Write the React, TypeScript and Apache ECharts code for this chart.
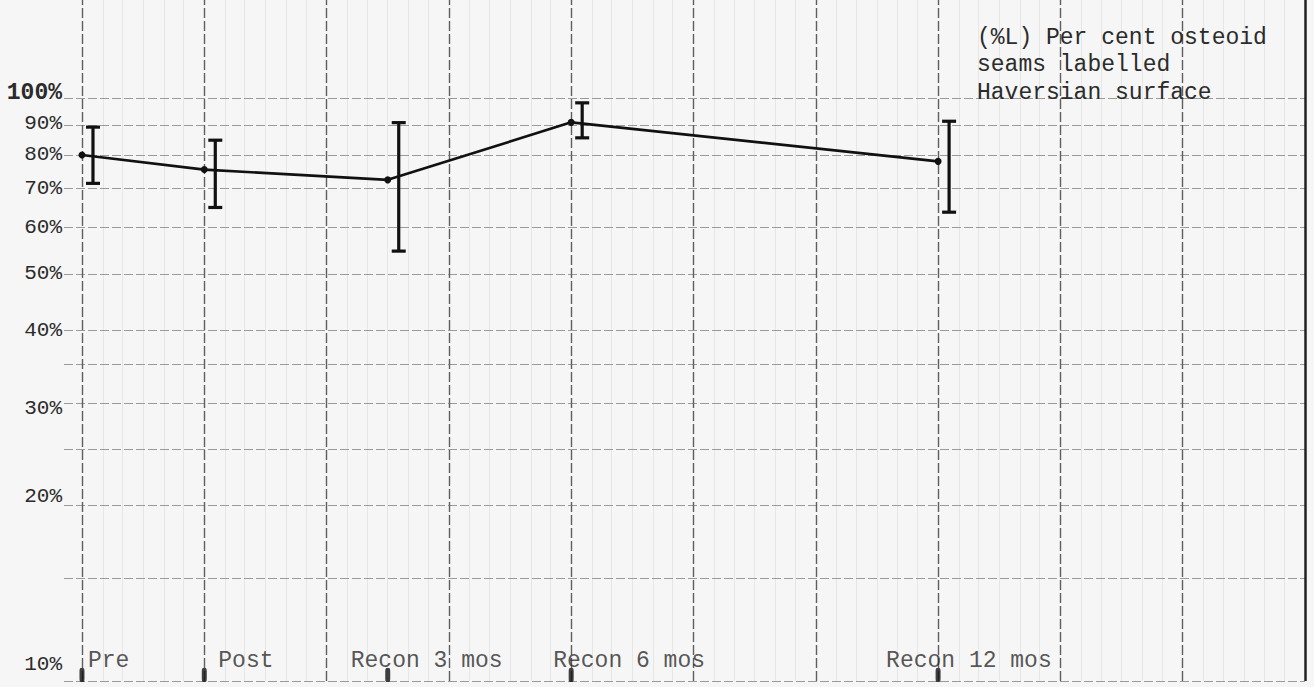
import React, { useEffect, useRef } from "react";
import * as echarts from "echarts";

// ---- data ----
const categories = ["Pre", "Post", "Recon 3 mos", "Recon 6 mos", "Recon 12 mos"];
const xPositions = [0, 1, 2.5, 4, 7];
const means = [80, 75.5, 72.5, 91, 78];
const lows = [71.5, 65, 54.7, 85.6, 63.8];
const highs = [89.3, 84.8, 90.9, 98.3, 91.4];
const yTickValues = [10, 20, 30, 40, 50, 60, 70, 80, 90, 100];
const yUnlabelledLines = [15, 25, 35];
const annotationLines = ["(%L) Per cent osteoid", "seams labelled", "Haversian surface"];

const FONT = "'Liberation Mono', 'DejaVu Sans Mono', monospace";
const INK = "#2b2b2b";

// label offsets (style) for category labels and y labels
const catLabelDx = [6, 14, -37, -18, -52];
const yLabelDy: Record<number, number> = { 10: -17, 20: -9, 30: 5, 90: -2, 100: -5 };

export default function App() {
  const ref = useRef<HTMLDivElement>(null);
  useEffect(() => {
    if (!ref.current) return;
    const chart = echarts.init(ref.current, undefined, { renderer: "svg" });

    const vMajor: any[] = [];
    for (let i = 0; i <= 9; i++) vMajor.push({ xAxis: i });
    const vFaint: any[] = [];
    for (let i = 0; i < 60; i++) {
      if (i % 6 !== 0) vFaint.push({ xAxis: i / 6 });
    }

    const hLines: any[] = [];
    yTickValues.forEach((v) => {
      hLines.push({
        yAxis: v,
        label: {
          show: true,
          position: "start",
          distance: 2,
          formatter: v + "%",
          fontFamily: FONT,
          fontSize: v === 100 ? 23 : 21,
          fontWeight: v === 100 ? "bold" : "normal",
          color: INK,
          offset: [0, yLabelDy[v] || 0],
        },
      });
    });
    yUnlabelledLines.forEach((v) => hLines.push({ yAxis: v, label: { show: false } }));

    const lineData = xPositions.map((x, i) => [x, means[i]]);
    const errData = xPositions.map((x, i) => [x, lows[i], highs[i]]);
    const markerData = xPositions.map((x) => [x, 10]);
    const labelData = xPositions.map((x, i) => ({
      value: [x, 10],
      label: { offset: [catLabelDx[i], -20] },
    }));

    const option: any = {
      animation: false,
      backgroundColor: "#f6f6f6",
      title: {
        text: annotationLines.join("\n"),
        left: 972,
        top: 19,
        textStyle: {
          fontFamily: FONT,
          fontSize: 23,
          fontWeight: "normal",
          color: INK,
          lineHeight: 27.5,
        },
      },
      grid: { left: 64, right: 9, top: 0, bottom: 6 },
      xAxis: {
        type: "value",
        min: -0.147,
        max: 10,
        axisLine: { show: false },
        axisTick: { show: false },
        axisLabel: { show: false },
        splitLine: { show: false },
      },
      yAxis: {
        type: "log",
        logBase: 10,
        min: 10,
        max: 147.6,
        axisLine: { show: false },
        axisTick: { show: false },
        axisLabel: { show: false },
        splitLine: { show: false },
      },
      series: [
        {
          type: "line",
          data: [],
          silent: true,
          z: 1,
          markLine: {
            silent: true,
            symbol: "none",
            label: { show: false },
            lineStyle: { color: "#e6e6e6", width: 1, type: "solid" },
            data: vFaint,
          },
        },
        {
          type: "line",
          data: [],
          silent: true,
          z: 2,
          markLine: {
            silent: true,
            symbol: "none",
            lineStyle: { color: "#9a9a9a", width: 1.2, type: [9, 3] },
            data: hLines,
          },
        },
        {
          type: "line",
          data: [],
          silent: true,
          z: 3,
          markLine: {
            silent: true,
            symbol: "none",
            label: { show: false },
            lineStyle: { color: "#5f5f5f", width: 1.4, type: [10, 3] },
            data: vMajor,
          },
        },
        {
          type: "line",
          data: [],
          silent: true,
          z: 3,
          markLine: {
            silent: true,
            symbol: "none",
            label: { show: false },
            lineStyle: { color: "#222", width: 2.5, type: "solid" },
            data: [{ xAxis: 10 }],
          },
        },
        {
          type: "line",
          data: lineData,
          z: 10,
          symbol: "circle",
          symbolSize: 7,
          itemStyle: { color: "#111" },
          lineStyle: { color: "#111", width: 2.6 },
        },
        {
          type: "custom",
          z: 11,
          data: errData,
          renderItem: (params: any, api: any) => {
            const x = api.value(0);
            const lo = api.coord([x, api.value(1)]);
            const hi = api.coord([x, api.value(2)]);
            const px = lo[0] + 11;
            const cap = 7;
            const style = { stroke: "#111", lineWidth: 3.2 };
            return {
              type: "group",
              children: [
                { type: "line", shape: { x1: px, y1: hi[1], x2: px, y2: lo[1] }, style },
                { type: "line", shape: { x1: px - cap, y1: hi[1], x2: px + cap, y2: hi[1] }, style },
                { type: "line", shape: { x1: px - cap, y1: lo[1], x2: px + cap, y2: lo[1] }, style },
              ],
            };
          },
        },
        {
          type: "scatter",
          z: 12,
          data: markerData,
          symbol: "roundRect",
          symbolSize: [5, 14],
          symbolOffset: [0, -6],
          itemStyle: { color: "#111" },
        },
        {
          type: "scatter",
          z: 12,
          data: labelData,
          symbolSize: 1,
          itemStyle: { color: "transparent" },
          label: {
            show: true,
            position: "inside",
            align: "left",
            verticalAlign: "middle",
            fontFamily: FONT,
            fontSize: 23,
            color: INK,
            formatter: (p: any) => categories[p.dataIndex],
          },
        },
      ],
    };
    chart.setOption(option);
    return () => chart.dispose();
  }, []);
  return (
    <div
      ref={ref}
      style={{ position: "absolute", left: 0, top: 0, width: 1314, height: 687 }}
    />
  );
}
